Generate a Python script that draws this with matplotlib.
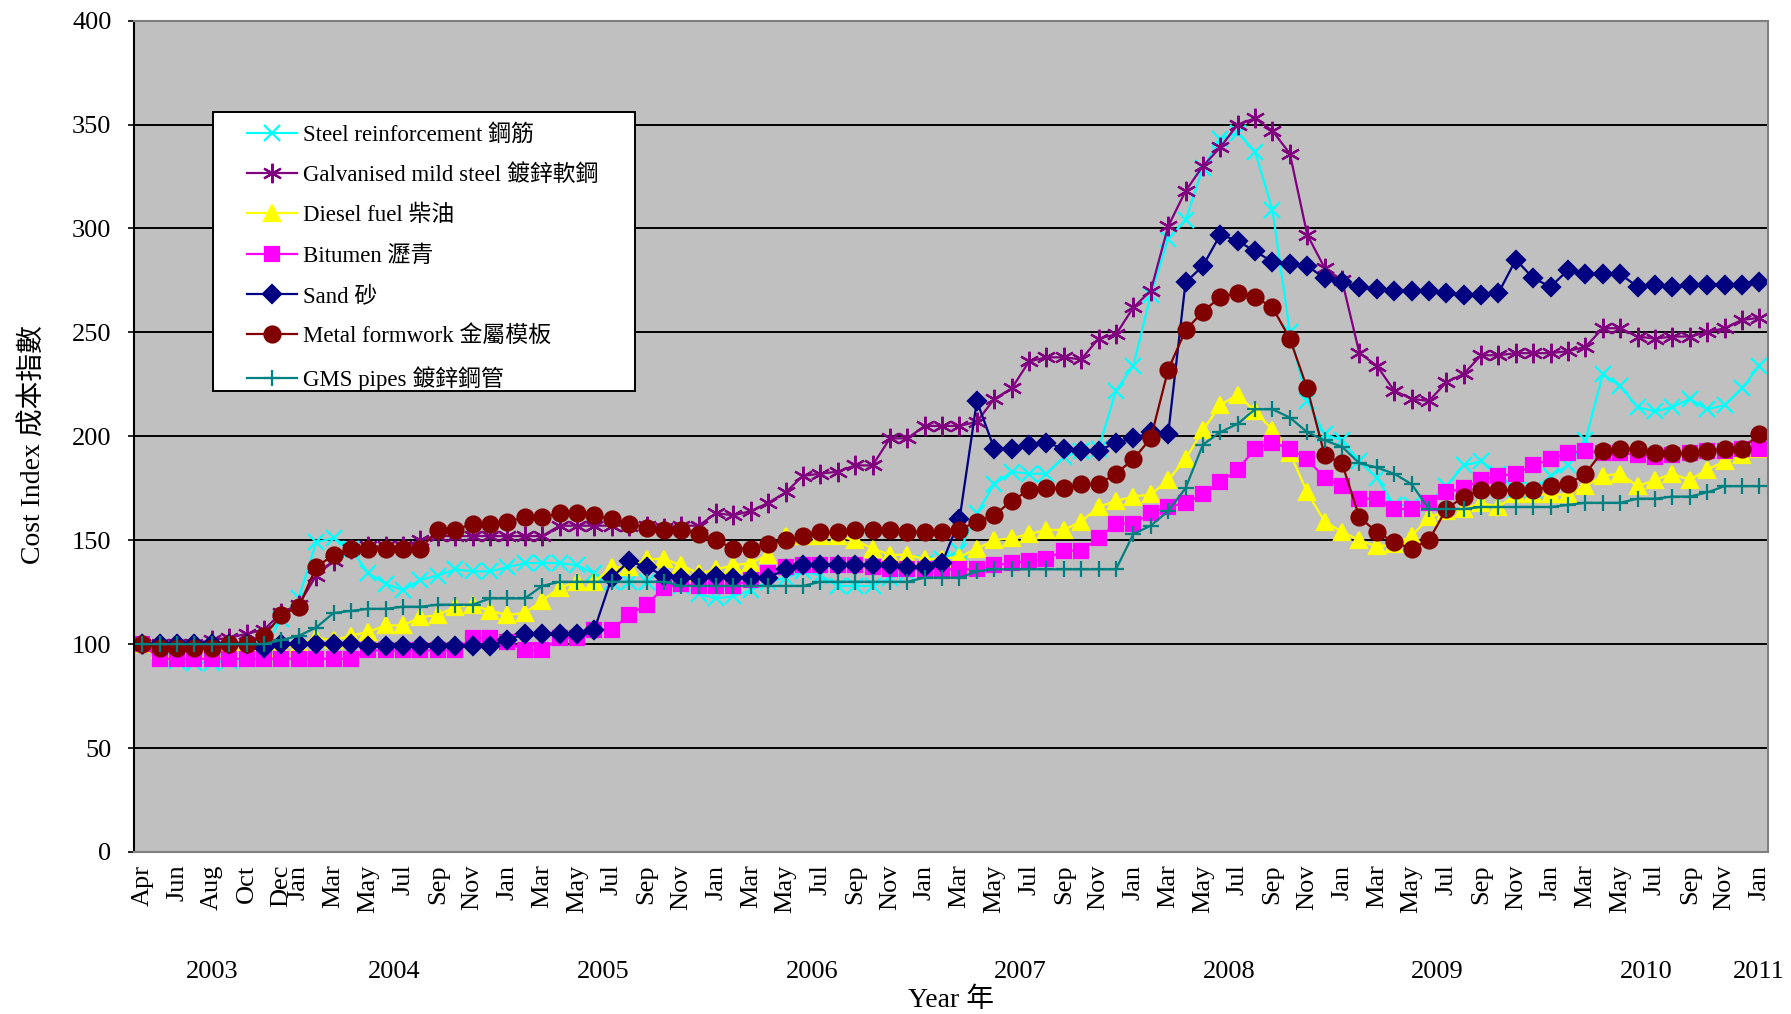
import numpy as np
import matplotlib
matplotlib.use("Agg")
import matplotlib.pyplot as plt
from matplotlib.patches import Rectangle

plt.rcParams['font.family'] = ['Liberation Serif', 'Noto Sans CJK TC']

# Données mensuelles : avril 2003 -> janvier 2011
MONTH_NAMES = ['Jan', 'Feb', 'Mar', 'Apr', 'May', 'Jun',
               'Jul', 'Aug', 'Sep', 'Oct', 'Nov', 'Dec']
START_YEAR, START_MONTH, N_MONTHS = 2003, 4, 94

steel = [100, 94, 92, 91, 91, 92, 93, 98, 112, 122,
         149, 151, 146, 134, 129, 126, 131, 133, 136, 135, 135,
         137, 139, 139, 139, 138, 134, 130, 130, 130, 130, 128, 124,
         122, 123, 126, 130, 132, 135, 133, 128, 128, 128, 132, 134,
         139, 141, 145, 163, 177, 183, 182, 182, 190, 193, 194, 222,
         234, 268, 295, 304, 329, 343, 346, 337, 309, 250, 217, 201,
         198, 188, 180, 167, 167, 168, 176, 186, 188, 182, 174, 174,
         181, 186, 198, 230, 224, 214, 212, 214, 218, 213, 215, 223,
         234]
galvanised = [100, 100, 100, 100, 102, 103, 105, 107, 115, 119,
              133, 140, 146, 147, 147, 147, 150, 152, 152, 152, 152,
              152, 152, 152, 157, 157, 157, 157, 157, 157, 156, 157, 157,
              163, 162, 164, 168, 173, 181, 182, 183, 186, 186, 199, 199,
              205, 205, 205, 207, 218, 223, 236, 238, 238, 237, 247, 249,
              262, 270, 301, 318, 330, 339, 350, 353, 347, 336, 297, 281,
              275, 240, 234, 222, 218, 217, 226, 230, 239, 239, 240, 240,
              240, 241, 243, 252, 252, 248, 247, 248, 248, 250, 252, 256,
              257]
diesel = [100, 97, 97, 97, 97, 97, 97, 97, 98, 100,
          103, 102, 104, 106, 109, 109, 113, 114, 118, 119, 116,
          114, 115, 121, 127, 130, 130, 137, 137, 141, 141, 138, 134,
          136, 138, 139, 143, 152, 152, 152, 152, 150, 146, 143, 143,
          141, 141, 142, 146, 150, 151, 153, 155, 155, 159, 166, 169,
          171, 172, 179, 189, 203, 215, 220, 212, 203, 192, 173, 159,
          154, 150, 147, 148, 152, 161, 164, 165, 168, 166, 172, 172,
          172, 172, 176, 181, 182, 176, 179, 182, 179, 184, 188, 191,
          194]
bitumen = [100, 93, 93, 93, 93, 93, 93, 93, 93, 93,
           93, 93, 93, 97, 97, 97, 97, 97, 97, 103, 103,
           101, 97, 97, 103, 103, 107, 107, 114, 119, 127, 129, 128,
           128, 128, 131, 134, 137, 138, 138, 138, 138, 137, 136, 136,
           136, 136, 136, 136, 138, 139, 140, 141, 145, 145, 151, 158,
           158, 163, 166, 168, 172, 178, 184, 194, 197, 194, 189, 180,
           176, 170, 170, 165, 165, 168, 173, 175, 179, 181, 182, 186,
           189, 192, 193, 192, 192, 191, 190, 191, 192, 193, 193, 194,
           194]
sand = [100, 100, 100, 100, 100, 100, 100, 98, 100, 100,
        100, 100, 100, 99, 99, 99, 99, 99, 99, 99, 99,
        102, 105, 105, 105, 105, 107, 132, 140, 137, 133, 132, 132,
        133, 132, 132, 132, 136, 138, 138, 138, 138, 138, 138, 137,
        137, 139, 160, 217, 194, 194, 196, 197, 194, 193, 193, 197,
        199, 202, 201, 274, 282, 297, 294, 289, 284, 283, 282, 276,
        274, 272, 271, 270, 270, 270, 269, 268, 268, 269, 285, 276,
        272, 280, 278, 278, 278, 272, 273, 272, 273, 273, 273, 273,
        274]
formwork = [100, 98, 98, 98, 98, 100, 100, 104, 114, 118,
            137, 143, 146, 146, 146, 146, 146, 155, 155, 158, 158,
            159, 161, 161, 163, 163, 162, 160, 158, 156, 155, 155, 153,
            150, 146, 146, 148, 150, 152, 154, 154, 155, 155, 155, 154,
            154, 154, 155, 159, 162, 169, 174, 175, 175, 177, 177, 182,
            189, 199, 232, 251, 260, 267, 269, 267, 262, 247, 223, 191,
            187, 161, 154, 149, 146, 150, 165, 171, 174, 174, 174, 174,
            176, 177, 182, 193, 194, 194, 192, 192, 192, 193, 194, 194,
            201]
gms = [100, 100, 100, 100, 100, 100, 100, 100, 102, 104,
       108, 115, 116, 117, 117, 118, 118, 119, 119, 119, 122,
       122, 122, 128, 130, 130, 130, 130, 130, 130, 130, 128, 128,
       128, 128, 128, 128, 128, 128, 130, 130, 130, 130, 130, 130,
       132, 132, 132, 135, 136, 136, 136, 136, 136, 136, 136, 136,
       153, 157, 164, 175, 196, 202, 206, 213, 213, 209, 202, 198,
       195, 187, 185, 182, 177, 165, 165, 165, 166, 166, 166, 166,
       166, 167, 168, 168, 168, 170, 170, 171, 171, 173, 176, 176,
       176]

labels = ['Steel reinforcement 鋼筋', 'Galvanised mild steel 鍍鋅軟鋼',
          'Diesel fuel 柴油', 'Bitumen 瀝青', 'Sand 砂',
          'Metal formwork 金屬模板', 'GMS pipes 鍍鋅鋼管']
series = [steel, galvanised, diesel, bitumen, sand, formwork, gms]
colors = ['#00FFFF', '#800080', '#FFFF00', '#FF00FF', '#000080', '#800000', '#008080']
markers = ['x', (6, 2, 0), '^', 's', 'D', 'o', '+']
msizes = [11, 14, 11, 10.5, 9, 11.5, 11]

# Catégories (mois + année)
cat_month, cat_year = [], []
for k in range(N_MONTHS):
    m = START_MONTH - 1 + k
    cat_month.append(MONTH_NAMES[m % 12])
    cat_year.append(START_YEAR + m // 12)
x = np.arange(N_MONTHS)

fig = plt.figure(figsize=(17.91, 10.14), dpi=100)
ax = fig.add_axes([133.6 / 1791, 1 - 852 / 1014, 1634.4 / 1791, 831.4 / 1014])
ax.set_facecolor('#C0C0C0')

for vals, lab, c, mk, ms in zip(series, labels, colors, markers, msizes):
    ax.plot(x, vals, color=c, lw=1.6, marker=mk, markersize=ms,
            markerfacecolor=c, markeredgecolor=c, markeredgewidth=1.6, label=lab)

ax.set_xlim(-0.5, N_MONTHS - 0.5)
ax.set_ylim(0, 400)
ax.set_yticks(range(0, 401, 50))
ax.yaxis.grid(True, color='black', lw=1.4)
ax.set_axisbelow(True)
ax.tick_params(axis='y', labelsize=19, length=4, width=1.2, pad=12, direction='out')

# Étiquettes des mois : un sur deux, recommencé à chaque année
tick_pos, tick_lab = [], []
group_start = 0
for k in range(N_MONTHS):
    if k > 0 and cat_year[k] != cat_year[k - 1]:
        group_start = k
    if (k - group_start) % 2 == 0:
        tick_pos.append(k)
        tick_lab.append(cat_month[k])
ax.set_xticks(tick_pos)
ax.set_xticklabels(tick_lab, rotation=90, fontsize=19, va='top', ha='center')
ax.tick_params(axis='x', length=0, pad=9)

# Années centrées sous chaque groupe
years = sorted(set(cat_year))
for yr in years:
    idx = [k for k in range(N_MONTHS) if cat_year[k] == yr]
    ax.text((idx[0] + idx[-1]) / 2, -0.144, str(yr), fontsize=19,
            ha='center', va='center', transform=ax.get_xaxis_transform())

ax.set_xlabel('Year 年', fontsize=20, va='center')
ax.xaxis.set_label_coords(0.5, -0.178)
ax.set_ylabel('Cost Index 成本指數', fontsize=20, va='center')
ax.yaxis.set_label_coords(-0.0615, 0.49)

for side in ['top', 'right', 'bottom']:
    ax.spines[side].set_color('#808080')
    ax.spines[side].set_linewidth(1.5)
ax.spines['left'].set_color('black')
ax.spines['left'].set_linewidth(1.5)

# Légende avec cadre blanc
box = Rectangle((213 / 1791, 1 - 391 / 1014), (635 - 213) / 1791, (391 - 112) / 1014,
                transform=fig.transFigure, facecolor='white', edgecolor='black',
                lw=1.4, zorder=5)
ax.add_patch(box)
box.set_clip_on(False)
leg = ax.legend(loc='upper left', bbox_to_anchor=((247 - 133.6) / 1634.4, 1 - (124 - 20.6) / 831.4),
                borderaxespad=0, borderpad=0, frameon=False, fontsize=16.5,
                handlelength=2.2, handletextpad=0.25, labelspacing=0.82)
leg.set_zorder(6)

fig.savefig('out.png', dpi=100)
